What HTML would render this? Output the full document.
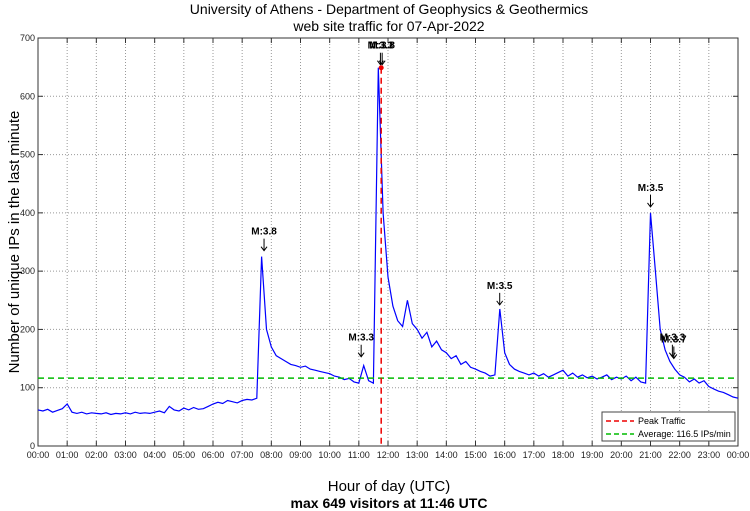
<!DOCTYPE html>
<html><head><meta charset="utf-8"><style>
html,body{margin:0;padding:0;background:#fff;width:750px;height:511px;overflow:hidden;}
svg{display:block;font-family:"Liberation Sans",sans-serif;}
</style></head><body>
<svg id="chart" width="750" height="511">
<text x="389" y="14" font-size="14" text-anchor="middle">University of Athens - Department of Geophysics &amp; Geothermics</text>
<text x="389" y="31" font-size="14" text-anchor="middle">web site traffic for 07-Apr-2022</text>
<text transform="translate(19,242) rotate(-90)" font-size="15" text-anchor="middle">Number of unique IPs in the last minute</text>
<text x="389" y="491" font-size="15" text-anchor="middle">Hour of day (UTC)</text>
<text x="389" y="508" font-size="14" font-weight="bold" text-anchor="middle">max 649 visitors at 11:46 UTC</text>
<g id="grid"></g><g id="axes"></g><g id="series"></g><g id="annot"></g>
<g>
<rect x="602" y="412" width="133" height="29" fill="#fff" stroke="#444" stroke-width="1"/>
<line x1="606" y1="421" x2="634" y2="421" stroke="#e00" stroke-width="1.5" stroke-dasharray="5,3"/>
<text x="638" y="424" font-size="9">Peak Traffic</text>
<line x1="606" y1="434" x2="634" y2="434" stroke="#0b0" stroke-width="1.5" stroke-dasharray="5,3"/>
<text x="638" y="437" font-size="9">Average: 116.5 IPs/min</text>
</g>
</svg>
<script>
const values = [
62,60,63,58,61,64, 72,58,56,58,55,57, 56,55,57,54,56,55, 57,55,58,56,57,56,
58,60,57,68,62,60, 65,62,66,63,64,68, 72,75,73,78,76,74, 78,80,79,82,325,200,
170,155,150,145,140,138, 135,137,132,130,128,126, 124,120,118,114,116,110, 108,138,112,108,649,400,
290,240,215,205,250,210, 200,185,195,170,180,165, 160,150,155,140,145,135, 132,128,125,120,122,235,
160,140,132,128,125,122, 125,120,124,118,122,126, 130,120,125,118,122,117, 120,115,118,122,114,118,
115,120,112,118,110,108, 400,300,200,165,145,132, 122,118,110,115,108,112, 102,98,94,92,88,84, 82];
const stepHours = 1/6;
const average = 116.5;
const peakHour = 11 + 46/60;
const peakValue = 649;
const yTicks = [0,100,200,300,400,500,600,700];
const xTicks = ["00:00","01:00","02:00","03:00","04:00","05:00","06:00","07:00","08:00","09:00","10:00","11:00","12:00","13:00","14:00","15:00","16:00","17:00","18:00","19:00","20:00","21:00","22:00","23:00","00:00"];
const quakeHours = [7.75, 11.08, 11.74, 11.80, 15.83, 21.0, 21.75, 21.8];
const quakeLabels = ["M:3.8","M:3.3","M:3.3","M:3.8","M:3.5","M:3.5","M:3.3","M:3.7"];
const quakeValues = [330, 148, 649, 649, 237, 405, 148, 145];

const L=38,R=738,T=38,B=446;
const x = h => L + h/24*(R-L);
const y = v => B - v/700*(B-T);
const NS="http://www.w3.org/2000/svg";
function mk(tag, parent, attrs){const e=document.createElementNS(NS,tag);for(const k in attrs)e.setAttribute(k,attrs[k]);parent.appendChild(e);return e;}
const grid=document.getElementById('grid'), axes=document.getElementById('axes'), series=document.getElementById('series'), annot=document.getElementById('annot');
yTicks.forEach(v=>{
  if(v>0&&v<700){const g=mk('line',grid,{x1:L,x2:R,y1:y(v),y2:y(v),stroke:'#999','stroke-dasharray':'1,2'});
  
  }
  mk('line',axes,{x1:L,x2:L+5,y1:y(v),y2:y(v),stroke:'#333'});
  mk('line',axes,{x1:R-5,x2:R,y1:y(v),y2:y(v),stroke:'#333'});
  const t=mk('text',axes,{x:L-3,y:y(v)+3,'font-size':9,'text-anchor':'end',fill:'#222'});t.textContent=v;
  
  
});
xTicks.forEach((lab,i)=>{
  const px=x(i);
  if(i>0&&i<24){const g=mk('line',grid,{x1:px,x2:px,y1:T,y2:B,stroke:'#999','stroke-dasharray':'1,2'});
  
  }
  mk('line',axes,{x1:px,x2:px,y1:B,y2:B-5,stroke:'#333'});
  mk('line',axes,{x1:px,x2:px,y1:T,y2:T+5,stroke:'#333'});
  const t=mk('text',axes,{x:px,y:B+12,'font-size':9,'text-anchor':'middle',fill:'#222'});t.textContent=lab;
  
  
});
const frame=mk('rect',axes,{x:L,y:T,width:R-L,height:B-T,fill:'none',stroke:'#333'});


let d='';
values.forEach((v,i)=>{d+=(i?'L':'M')+x(i*stepHours).toFixed(1)+','+y(v).toFixed(1);});
const line=mk('path',series,{d:d,fill:'none',stroke:'#00f','stroke-width':1.2});


const avg=mk('line',series,{x1:L,x2:R,y1:y(average),y2:y(average),stroke:'#0b0','stroke-width':1.5,'stroke-dasharray':'6,4'});


const pk=mk('line',series,{x1:x(peakHour),x2:x(peakHour),y1:y(peakValue),y2:B,stroke:'#e00','stroke-width':1.5,'stroke-dasharray':'6,4'});


const pm=mk('circle',series,{cx:x(peakHour),cy:y(peakValue),r:2.5,fill:'#e00'});


quakeHours.forEach((h,i)=>{
  const px=x(h), tip=y(quakeValues[i])-3;
  const g=mk('g',annot,{});
  
  
  mk('line',g,{x1:px,x2:px,y1:tip-12,y2:tip,stroke:'#000','stroke-width':1});
  mk('path',g,{d:`M${px-3},${tip-4}L${px},${tip}L${px+3},${tip-4}`,fill:'none',stroke:'#000','stroke-width':1});
  const t=mk('text',g,{x:px,y:tip-16,'font-size':10,'font-weight':'bold','text-anchor':'middle'});t.textContent=quakeLabels[i];
});
</script>
</body></html>
